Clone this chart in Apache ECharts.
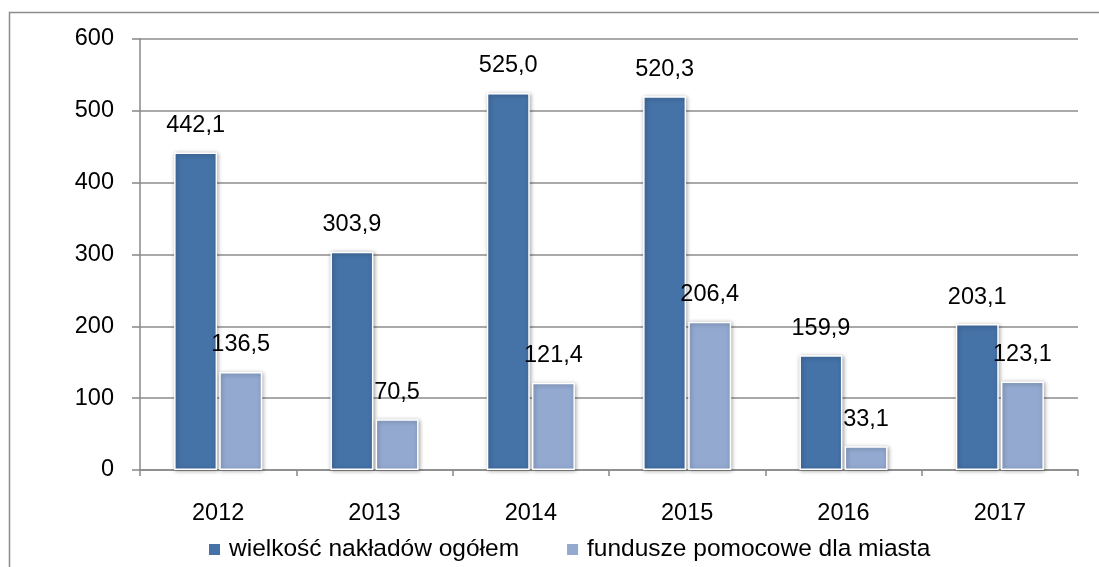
<!DOCTYPE html>
<html><head><meta charset="utf-8">
<script src="https://cdn.jsdelivr.net/npm/echarts@6/dist/echarts.min.js"></script>
<style>html,body{margin:0;padding:0;background:#fff}#c{width:1099px;height:567px}</style>
</head><body><div id="c"></div>
<script>
const categories = ['2012','2013','2014','2015','2016','2017'];
const totalValues = [442.1, 303.9, 525.0, 520.3, 159.9, 203.1];
const fundValues = [136.5, 70.5, 121.4, 206.4, 33.1, 123.1];
const seriesNames = ['wielkość nakładów ogółem', 'fundusze pomocowe dla miasta'];
const yTicks = [0, 100, 200, 300, 400, 500, 600];

const FONT = '"Liberation Sans", Arial, sans-serif';
const fmt = v => v.toFixed(1).replace('.', ',');
const chart = echarts.init(document.getElementById('c'), null, {renderer: 'canvas'});
const barStyle = c => ({color: c, borderColor: '#fff', borderWidth: 1.5,
  shadowBlur: 4, shadowColor: 'rgba(0,0,0,0.35)', shadowOffsetX: 1, shadowOffsetY: 1});
const lbl = {show: true, position: 'top', distance: 15, color: '#000', fontSize: 23.5, fontFamily: FONT,
  formatter: p => fmt(p.value)};
chart.setOption({
  backgroundColor: '#fff',
  animation: false,
  graphic: [{type: 'rect', shape: {x: 9.5, y: 12.5, width: 1200, height: 700},
    style: {fill: 'none', stroke: '#8c8c8c', lineWidth: 1.5}, silent: true}],
  grid: {left: 140, right: 21, top: 39, bottom: 97},
  legend: {left: 207, top: 537, padding: 0, itemWidth: 13, itemHeight: 13, itemGap: 46,
    icon: 'rect', textStyle: {fontSize: 24.5, fontFamily: FONT, color: '#000', padding: [0, 0, 0, 3]},
    data: seriesNames},
  xAxis: {type: 'category', data: categories,
    axisLine: {lineStyle: {color: '#888', width: 1.5}},
    axisTick: {show: true, length: 6, lineStyle: {color: '#888', width: 1.5}},
    axisLabel: {color: '#000', fontSize: 23.5, fontFamily: FONT, margin: 32}},
  yAxis: {type: 'value', min: yTicks[0], max: yTicks[yTicks.length - 1], interval: 100,
    axisLine: {show: true, lineStyle: {color: '#888', width: 1.5}},
    axisTick: {show: true, length: 8, lineStyle: {color: '#888', width: 1.5}},
    splitLine: {lineStyle: {color: '#8c8c8c', width: 1.5}},
    axisLabel: {color: '#000', fontSize: 23.5, fontFamily: FONT, margin: 26}},
  series: [
    {name: seriesNames[0], type: 'bar', barWidth: 43, barGap: '5%',
      data: totalValues, itemStyle: barStyle('#4572a7'), label: lbl},
    {name: seriesNames[1], type: 'bar', barWidth: 43,
      data: fundValues, itemStyle: barStyle('#93a9d0'), label: lbl}
  ]
});
</script></body></html>
